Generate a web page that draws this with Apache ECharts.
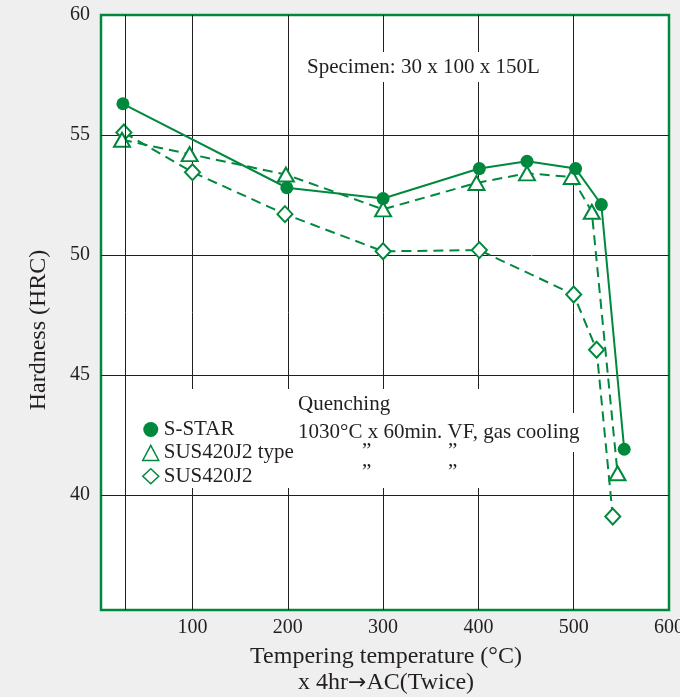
<!DOCTYPE html>
<html>
<head>
<meta charset="utf-8">
<script src="https://cdn.jsdelivr.net/npm/echarts@6/dist/echarts.min.js"></script>
<style>
html,body{margin:0;padding:0;background:#efefef;}
#chart{width:680px;height:697px;}
</style>
</head>
<body>
<div id="chart"></div>
<script>
// Tempering temperature (°C) vs Hardness (HRC)
const sStar = [[27,56.3],[199,52.8],[300,52.35],[401,53.6],[451,53.9],[502,53.6],[529,52.1],[553,41.9]];
const sus420j2Type = [[26,54.8],[97,54.2],[198,53.35],[300,51.9],[398,53.0],[451,53.4],[498,53.25],[519,51.8],[546,40.9]];
const sus420j2 = [[28,55.1],[100,53.45],[197,51.7],[300,50.15],[401,50.2],[500,48.35],[524,46.05],[541,39.1]];
const sus420j2Offline = [[456,49.6]];
const roomTemp = [29];
const seriesNames = ['S-STAR','SUS420J2 type','SUS420J2'];
const xRange = [4, 600];
const yRange = [35.2, 60];

const GREEN = '#00893d';
const INK = '#231f20';
const FONT = '"Liberation Serif","Times New Roman",serif';

const chart = echarts.init(document.getElementById('chart'), null, {renderer:'canvas'});
chart.setOption({
  animation:false,
  backgroundColor:'#efefef',
  grid:{left:101,top:15,width:568,height:595,containLabel:false,outerBoundsMode:'none',
        show:true,backgroundColor:'#fff',borderColor:GREEN,borderWidth:2.5},
  xAxis:{
    type:'value',min:xRange[0],max:xRange[1],
    axisLine:{show:false},axisTick:{show:false},
    axisLabel:{showMinLabel:false,margin:8,color:INK,fontFamily:FONT,fontSize:20},
    splitLine:{show:true,showMinLine:false,showMaxLine:false,lineStyle:{color:INK,width:1}}
  },
  yAxis:{
    type:'value',min:yRange[0],max:yRange[1],
    axisLine:{show:false},axisTick:{show:false},
    axisLabel:{showMinLabel:false,margin:11,color:INK,fontFamily:FONT,fontSize:20},
    splitLine:{show:true,showMinLine:false,showMaxLine:false,lineStyle:{color:INK,width:1}}
  },
  legend:{
    orient:'vertical',left:142,top:419,padding:0,itemGap:2.4,itemWidth:16,itemHeight:15,
    textStyle:{color:INK,fontFamily:FONT,fontSize:21,lineHeight:21},
    selectedMode:false,
    data:[
      {name:seriesNames[0],icon:'circle',itemStyle:{color:GREEN,borderWidth:0}},
      {name:seriesNames[1],icon:'triangle',itemStyle:{color:'#fff',borderColor:GREEN,borderWidth:1.5}},
      {name:seriesNames[2],icon:'diamond',itemStyle:{color:'#fff',borderColor:GREEN,borderWidth:1.5}}
    ]
  },
  graphic:[
    {type:'rect',z:1,silent:true,shape:{x:135,y:389,width:350,height:99},style:{fill:'#fff'}},
    {type:'rect',z:1,silent:true,shape:{x:480,y:413,width:112,height:39},style:{fill:'#fff'}},
    {type:'rect',z:1,silent:true,shape:{x:303,y:52,width:238,height:30},style:{fill:'#fff'}},
    {type:'text',z:3,left:307,top:57,style:{text:'Specimen: 30 x 100 x 150L',fill:INK,font:'21px '+FONT}},
    {type:'text',z:3,left:298,top:394,style:{text:'Quenching',fill:INK,font:'21px '+FONT}},
    {type:'text',z:3,left:298,top:422,style:{text:'1030°C x 60min. VF, gas cooling',fill:INK,font:'21px '+FONT}},
    {type:'text',z:3,left:362,top:441,style:{text:'”',fill:INK,font:'21px '+FONT}},
    {type:'text',z:3,left:448,top:441,style:{text:'”',fill:INK,font:'21px '+FONT}},
    {type:'text',z:3,left:362,top:462,style:{text:'”',fill:INK,font:'21px '+FONT}},
    {type:'text',z:3,left:448,top:462,style:{text:'”',fill:INK,font:'21px '+FONT}},
    {type:'text',z:3,x:386,y:657,style:{text:'Tempering temperature (°C)',fill:INK,font:'24px '+FONT,align:'center',verticalAlign:'middle'}},
    {type:'text',z:3,x:386,y:683,style:{text:'x 4hr{a|→}AC(Twice)',fill:INK,font:'24px '+FONT,align:'center',verticalAlign:'middle',
      rich:{a:{fontFamily:'"DejaVu Sans"',fontSize:22,fill:INK}}}},
    {type:'text',z:3,x:38.5,y:330,rotation:Math.PI/2,style:{text:'Hardness (HRC)',fill:INK,font:'24px '+FONT,align:'center',verticalAlign:'middle'}}
  ],
  series:[
    {
      type:'line',name:'room',data:[],z:1,silent:true,
      markLine:{silent:true,symbol:['none','none'],label:{show:false},
        lineStyle:{color:INK,width:1,type:'solid'},
        data:roomTemp.map(v=>({xAxis:v}))}
    },
    {
      type:'line',name:seriesNames[2],data:sus420j2,z:3,
      symbol:'emptyDiamond',symbolSize:[15,16],
      itemStyle:{color:GREEN,borderWidth:1.6},
      lineStyle:{color:GREEN,width:2,type:[10,6]}
    },
    {
      type:'scatter',name:seriesNames[2],data:sus420j2Offline,z:3,
      symbol:'emptyDiamond',symbolSize:[15,16],
      itemStyle:{color:'#fff',borderColor:GREEN,borderWidth:1.6}
    },
    {
      type:'line',name:seriesNames[1],data:sus420j2Type,z:4,
      symbol:'emptyTriangle',symbolSize:[16,14],
      itemStyle:{color:GREEN,borderWidth:1.6},
      lineStyle:{color:GREEN,width:2,type:[10,6]}
    },
    {
      type:'line',name:seriesNames[0],data:sStar,z:5,
      symbol:'circle',symbolSize:13,
      itemStyle:{color:GREEN},
      lineStyle:{color:GREEN,width:2,type:'solid'}
    }
  ]
});
</script>
</body>
</html>
